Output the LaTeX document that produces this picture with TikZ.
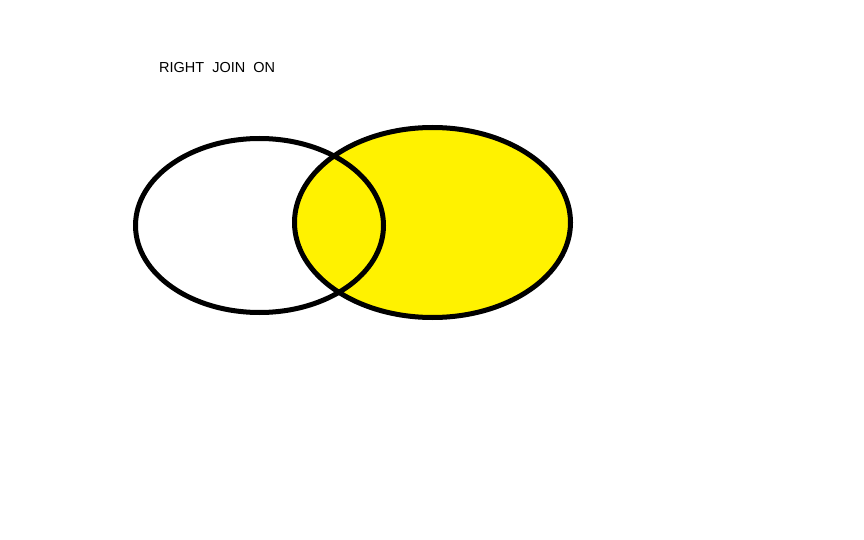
\documentclass[tikz,border=0pt]{standalone}
\usepackage{fontspec}
\setmainfont{Liberation Sans}
\definecolor{joinyellow}{rgb}{1.000000, 0.949000, 0.000000}
\tikzset{
  setline/.style={draw=black, line width=5pt},
  joinlabel/.style={anchor=west, inner sep=0pt, font=\fontsize{14.5}{16}\selectfont}
}

\begin{document}
\begin{tikzpicture}[x=1pt, y=-1pt]
\useasboundingbox (0,0) rectangle (864,540);
% right table (filled)
\fill[joinyellow] (432.5,222.5) ellipse [x radius=138, y radius=95];
\draw[setline] (432.5,222.5) ellipse [x radius=138, y radius=95];
% left table
\draw[setline] (259.5,225.5) ellipse [x radius=124, y radius=87];
\node[joinlabel] (title) at (159,68) {RIGHT\ \ JOIN\ \ ON};
\end{tikzpicture}
\end{document}
